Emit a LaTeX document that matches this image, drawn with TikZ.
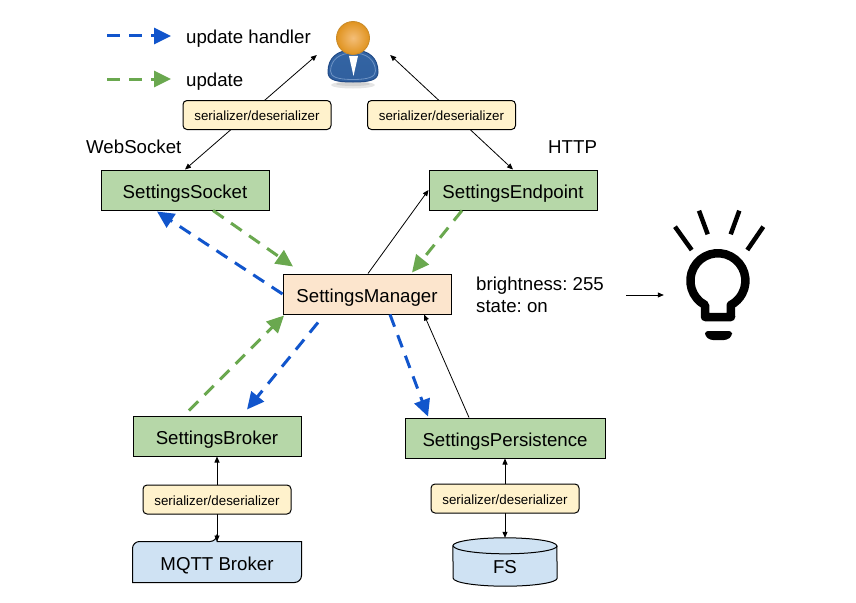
\documentclass[tikz,border=0pt]{standalone}
\usepackage{fontspec}
\setmainfont{Liberation Sans}
\frenchspacing
\usetikzlibrary{arrows.meta,backgrounds}
\definecolor{boxgreen}{HTML}{B6D7A8}
\definecolor{boxpeach}{HTML}{FCE5CD}
\definecolor{boxblue}{HTML}{CFE2F3}
\definecolor{boxyellow}{HTML}{FFF2CC}
\definecolor{linkblue}{HTML}{1155CC}
\definecolor{linkgreen}{HTML}{6AA84F}
\definecolor{suitdark}{HTML}{204A87}
\definecolor{suitmid}{HTML}{3465A4}
\definecolor{suitlight}{HTML}{6E93C4}
\definecolor{headin}{HTML}{F4BE78}
\definecolor{headout}{HTML}{E0931F}
\definecolor{headline}{HTML}{C88A2A}
\tikzset{
  every node/.style={font=\fontsize{18.67}{22}\selectfont},
  boxbase/.style={draw=black,line width=1pt,minimum height=40pt,inner sep=0pt,text height=16pt,text depth=0pt},
  gbox/.style={boxbase,fill=boxgreen,minimum width=168pt},
  pbox/.style={boxbase,fill=boxpeach,minimum width=168pt},
  serbox/.style={draw=black,line width=1pt,fill=boxyellow,rounded corners=4pt,minimum width=148pt,minimum height=29pt,inner sep=0pt,text height=11pt,text depth=0pt,font=\fontsize{13.33}{16}\selectfont},
  plain/.style={inner sep=0pt,anchor=west},
  thin link/.style={line width=0.8pt,-{Triangle[length=6pt,width=5pt]}},
  both link/.style={line width=0.8pt,{Triangle[length=6pt,width=5pt]}-{Triangle[length=6pt,width=5pt]}},
  bigdash/.style={line width=3pt,dash pattern=on 13pt off 9pt},
  bluelink/.style={bigdash,draw=linkblue,-{Triangle[length=17pt,width=16pt,fill=linkblue]}},
  greenlink/.style={bigdash,draw=linkgreen,-{Triangle[length=17pt,width=16pt,fill=linkgreen]}},
}
\begin{document}
\begin{tikzpicture}[x=1pt,y=-1pt]
\useasboundingbox (0,0) rectangle (856,602);
% nodes
\node[gbox] (sock) at (185,190) {SettingsSocket};
\node[gbox] (endp) at (513,190) {SettingsEndpoint};
\node[pbox] (mgr) at (367,294) {SettingsManager};
\node[gbox] (brok) at (217,436) {SettingsBroker};
\node[gbox,minimum width=200pt] (pers) at (505,438) {SettingsPersistence};
\node[boxbase,draw=none,minimum width=168pt] (mqtt) at (217,562) {MQTT Broker};
\node[inner sep=0pt,minimum width=104pt,minimum height=48pt,text height=23pt,text depth=0pt] (fs) at (505,562) {FS};
\node[serbox] (ser1) at (257,115) {serializer/deserializer};
\node[serbox] (ser2) at (441.5,115) {serializer/deserializer};
\node[serbox] (ser3) at (217,499.5) {serializer/deserializer};
\node[serbox] (ser4) at (505,498.5) {serializer/deserializer};
\node[inner sep=0pt,minimum width=52pt,minimum height=66pt] (user) at (353,50) {};
\node[inner sep=0pt,minimum width=90pt,minimum height=130pt] (bulb) at (719,275) {};
\node[plain] (lh) at (186,39) {update handler};
\node[plain] (lu) at (186,82) {update};
\node[plain] (ws) at (86,147) {WebSocket};
\node[plain] (http) at (548,147) {HTTP};
\node[plain,align=left,font=\fontsize{18.67}{22}\selectfont] (st) at (476,295) {brightness: 255\\state: on};
\coordinate (lb1) at (107,36);
\coordinate (lb2) at (171,36);
\coordinate (lg1) at (107,79);
\coordinate (lg2) at (171,79);
% MQTT and FS outlines, and connectors that pass behind boxes
\begin{scope}[on background layer]
\draw[line width=1pt,fill=boxblue] (mqtt.north) -- (mqtt.north east) -- (mqtt.east)
  {[rounded corners=7pt] -- (mqtt.south east) -- (mqtt.south)} -- (mqtt.south west) -- (mqtt.west)
  {[rounded corners=7pt] -- (mqtt.north west) -- (mqtt.north)} -- cycle;
\draw[line width=1pt,fill=boxblue] ([yshift=-8pt]fs.north west)
  arc [start angle=180,end angle=360,x radius=52,y radius=8]
  -- ([yshift=8pt]fs.south east)
  arc [start angle=0,end angle=180,x radius=52,y radius=8] -- cycle;
\draw[line width=1pt] ([yshift=-8pt]fs.north east)
  arc [start angle=0,end angle=180,x radius=52,y radius=8];
\draw[both link] (sock.north) -- ([xshift=-10pt,yshift=-5pt]user.west);
\draw[both link] (endp.north) -- ([xshift=11pt,yshift=-5pt]user.east);
\draw[both link] (brok.south) -- (mqtt.north);
\draw[both link] (pers.south) -- (fs.north);
\end{scope}
% thin connectors
\draw[thin link] ([xshift=1pt]mgr.north) -- (endp.west);
\draw[thin link] ([xshift=-36pt]pers.north) -- ([xshift=57pt]mgr.south);
\draw[thin link] ([xshift=22pt]st.east) -- ([xshift=-10pt,yshift=-20pt]bulb.west);
% dashed connectors
\draw[bluelink] (mgr.west) -- ([xshift=-28pt,yshift=-1pt]sock.south);
\draw[greenlink] ([xshift=28pt]sock.south) -- ([xshift=-74pt,yshift=7pt]mgr.north);
\draw[greenlink] ([xshift=-51pt]endp.south) -- ([xshift=45pt,yshift=1pt]mgr.north);
\draw[bluelink] ([xshift=-49pt,yshift=-8pt]mgr.south) -- ([xshift=30pt,yshift=6pt]brok.north);
\draw[greenlink] ([xshift=-28pt,yshift=5pt]brok.north) -- ([xshift=-83pt,yshift=-1pt]mgr.south);
\draw[bluelink] ([xshift=23pt]mgr.south) -- ([xshift=-77pt,yshift=1pt]pers.north);
\draw[bluelink] (lb1) -- (lb2);
\draw[greenlink] (lg1) -- (lg2);
% user icon
\fill[black!10] (353,85) ellipse [x radius=22,y radius=3.5];
\fill[black!18] (353,84) ellipse [x radius=17,y radius=2];
\draw[line width=1pt,draw=suitdark,top color=suitmid,bottom color=suitmid!80!suitdark]
  (328,72) .. controls (328,58) and (337,50) .. (353,50) .. controls (369,50) and (378,58) .. (378,72)
  .. controls (378,80) and (370,82) .. (353,82) .. controls (336,82) and (328,80) .. (328,72) -- cycle;
\draw[line width=0.8pt,draw=suitlight]
  (330.5,71) .. controls (331,60) and (339,53) .. (353,53) .. controls (367,53) and (375,60) .. (375.5,71)
  .. controls (375.5,77) and (368,79.5) .. (353,79.5) .. controls (338,79.5) and (330.5,77) .. (330.5,71) -- cycle;
\fill[white] (349,56) -- (358,56) -- (353.5,76) -- cycle;
\shade[inner color=headin,outer color=headout,draw=headline,line width=0.8pt] (353,38) circle [radius=16.5];
% bulb icon
\draw[line width=8.5pt,line join=round] (705,305) arc [start angle=118,end angle=422,radius=27.5] -- (731,317) -- (705,317) -- cycle;
\fill[rounded corners=3pt] (705,331) -- (732,331) -- (732,336) -- (727,340) -- (710,340) -- (705,336) -- cycle;
\draw[line width=4.5pt] (675,226.7) -- (691.7,250);
\draw[line width=4.5pt] (699,210.7) -- (707.7,234.3);
\draw[line width=4.5pt] (739.3,210.7) -- (730.7,234.3);
\draw[line width=4.5pt] (763.3,226.7) -- (747.3,250);
\end{tikzpicture}
\end{document}
